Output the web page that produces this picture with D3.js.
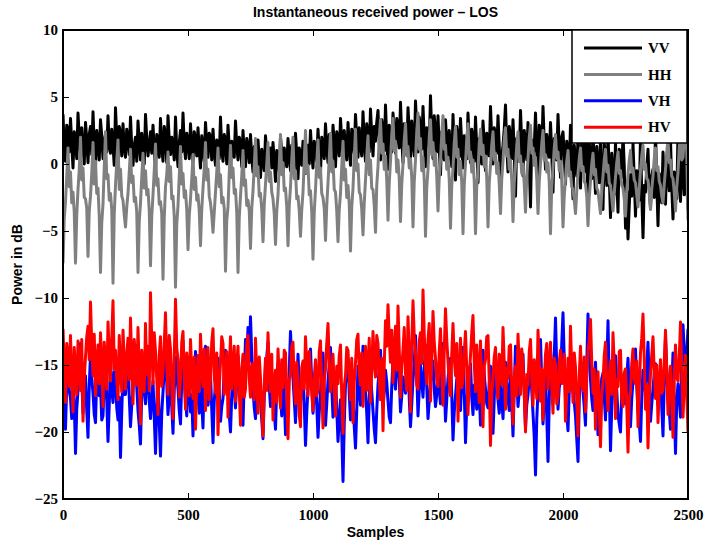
<!DOCTYPE html>
<html>
<head>
<meta charset="utf-8">
<script src="https://cdnjs.cloudflare.com/ajax/libs/d3/7.8.5/d3.min.js"></script>
<style>
  body { margin: 0; background: #fff; }
  svg { display: block; }
  .tick text { font-family: "Liberation Serif", "Times New Roman", serif; font-weight: bold; font-size: 15px; fill: #000; }
  .tick line { stroke: #000; stroke-width: 1; }
</style>
</head>
<body>
<svg width="704" height="544"></svg>
<script>

// one value every 5 samples (0..2500)
const lastSample = 2500;

const vv = [
  3.7, 1.1, 0.2, 2.9, 2.6, 0.9, 3.4, 1.5, -0.3, 2.4, 1.9, 0.4, 3.8, 2.0, 0.6, 2.7, 1.2, 0.0, 3.1, 1.8, 0.1, 2.2, 2.8, 0.7, 3.9, 1.3, -0.2, 2.5, 1.6, 0.3, 3.3, 2.1, 0.4, 1.7, 2.2, 0.9, 3.6, 1.4, 0.8, 2.6, 1.4, -0.1, 4.2, 1.9, 0.0, 2.8, 2.3, 0.6, 3.0, 1.2,
  0.5, 2.6, 1.8, 0.7, 3.5, 1.2, -0.1, 1.4, 2.0, 0.2, 3.2, 1.6, 0.3, 2.3, 1.1, 0.0, 3.7, 1.9, 0.6, 1.5, 2.4, 0.8, 2.9, 1.0, -0.4, 2.2, 1.7, 0.5, 3.4, 1.3, 0.2, 2.8, 2.1, 0.1, 3.6, 1.8, 0.7, 2.0, 1.3, 0.3, 3.5, 1.1, -0.2, 1.6, 2.5, 0.9, 3.8, 1.4, 0.4, 2.3,
  1.6, 0.4, 3.0, 1.3, 0.1, 2.4, 1.9, 0.6, 2.7, 1.0, -0.3, 2.1, 1.2, 0.2, 3.1, 1.5, 0.5, 2.3, 2.0, 0.3, 2.6, 0.9, -0.1, 1.8, 1.4, 0.4, 3.5, 1.1, 0.2, 2.2, 1.8, 0.0, 2.9, 1.2, -0.5, 1.7, 1.0, 0.5, 3.2, 1.4, 0.3, 2.0, 1.7, -0.2, 2.5, 0.8, -0.2, 1.9, 1.3, 0.1,
  2.2, 0.5, -0.6, 1.3, 0.9, -0.2, 1.8, 0.3, -1.0, 1.1, 0.4, -0.5, 2.1, 0.8, -0.4, 0.6, 1.2, -0.3, 1.6, 0.2, -1.3, 1.0, 0.7, -0.6, 2.0, 0.9, -0.8, 1.2, 0.3, -0.2, 1.9, 0.6, -0.5, 1.4, 1.1, -0.4, 2.3, 0.7, -1.1, 1.2, 0.6, -0.1, 1.7, 0.4, -0.7, 0.9, 1.4, 0.0, 2.5, 0.8,
  -0.3, 1.7, 1.0, 0.2, 2.6, 0.9, -0.6, 2.0, 1.5, 0.4, 3.0, 1.2, 0.1, 2.2, 0.8, -0.1, 2.9, 1.5, -0.2, 2.4, 1.8, 0.6, 3.4, 1.7, 0.4, 2.5, 1.2, 0.3, 3.1, 1.4, -0.1, 2.6, 2.0, 0.8, 3.7, 1.9, 0.5, 2.7, 1.4, 0.6, 3.9, 1.6, 0.2, 3.0, 2.2, 0.9, 4.1, 2.1, 0.6, 2.8,
  1.7, 3.1, 4.0, 1.6, 0.3, 3.3, 2.5, 1.0, 4.4, 1.8, -0.4, 2.9, 1.9, 0.9, 3.8, 2.3, 0.8, 3.4, 2.6, 1.2, 4.6, 2.0, 0.1, 3.0, 2.1, 0.7, 4.2, 2.4, 0.5, 3.2, 1.6, 0.6, 4.7, 2.6, 0.9, 3.5, 2.8, 1.1, 4.3, 1.9, -0.2, 2.7, 2.0, 1.3, 5.1, 2.2, 0.4, 3.6, 2.4, 0.9,
  3.6, 1.2, -0.8, 2.4, 1.5, 0.3, 3.3, 1.6, 0.2, 2.5, 1.1, -0.2, 3.7, 1.0, -1.2, 2.8, 2.0, 0.5, 3.4, 1.4, -0.3, 2.1, 1.3, 0.4, 3.8, 1.7, 0.1, 2.6, 1.8, 0.2, 3.5, 1.1, -1.4, 1.9, 0.9, 0.0, 3.2, 1.5, -0.5, 2.3, 1.6, 0.6, 4.3, 1.8, 0.0, 2.7, 2.2, 0.8, 3.6, 1.3,
  -1.7, 0.5, 1.4, 2.6, 4.4, 1.3, -0.6, 2.8, 2.0, 0.4, 3.3, 0.9, -2.4, 1.9, 1.0, 0.2, 4.0, 1.5, -0.9, 2.5, 1.7, 0.3, 3.1, 0.1, -3.2, 1.8, 0.6, 1.2, 3.8, 1.0, -1.2, 2.9, 2.3, 0.7, 4.3, 1.6, -0.4, 2.2, 1.1, 0.5, 3.1, 0.8, -2.1, 1.9, 1.5, 0.3, 3.7, 1.2, -1.0, 2.0,
  2.4, 0.6, -1.5, 1.7, 0.8, -0.4, 2.9, 0.2, -2.6, 1.4, 0.3, -0.9, 2.1, 0.0, -1.8, 2.0, 1.2, -0.6, 3.0, 0.4, -3.0, 1.6, 0.5, -1.1, 2.6, -0.3, -2.2, 1.3, 0.0, -1.4, 1.9, -0.7, -3.4, 1.5, 0.7, -1.6, 2.3, -0.8, -4.0, 0.8, -0.5, -2.3, 1.6, -1.2, -3.6, 1.1, 0.9, -1.0, 2.2, -0.2,
  -4.8, -2.0, -5.6, -3.1, -0.8, -2.4, 1.5, -1.1, -3.9, -0.5, -1.2, -2.7, 2.0, -2.2, -5.5, -1.6, -2.1, -0.3, 1.1, -1.8, -3.3, -0.9, -0.4, -2.5, 2.4, -1.3, -4.6, -0.7, -1.5, -2.9, 0.9, -1.4, -3.0, 0.4, -0.2, -2.0, 1.8, -1.7, -4.1, -0.6, -1.0, -2.6, 2.3, -0.8, -2.8, 0.5, -0.6, -2.3, 1.9, -1.5,
  -3.4
];

const hh = [
  -7.4, -4.1, -2.8, -0.9, 1.2, -1.7, -0.6, -2.9, -2.1, -3.6, -7.4, -3.8, -1.9, -0.4, 2.0, -1.2, -0.3, -2.5, -2.6, -3.3, -6.9, -3.5, -2.4, -0.7, 1.6, -1.5, 0.2, -2.2, -1.8, -3.9, -8.1, -4.4, -3.0, -0.2, 2.4, -1.1, -0.8, -2.7, -2.2, -3.4, -8.9, -3.7, -1.6, 0.1, 1.8, -1.9, -0.4, -2.4, -2.7, -3.8,
  -4.7, -3.2, -2.2, -0.6, 1.1, -1.4, -0.9, -2.8, -2.5, -3.6, -8.1, -4.3, -2.9, -1.0, 0.8, -1.8, -0.5, -2.3, -1.9, -3.5, -7.6, -3.9, -2.3, -0.5, 1.5, -1.6, -1.1, -3.0, -2.8, -3.7, -8.6, -4.0, -1.7, -0.8, 0.9, -1.3, -0.2, -2.6, -2.4, -3.9, -9.2, -4.5, -3.1, -0.9, 1.3, -1.5, -0.7, -2.5, -2.0, -3.4,
  -6.4, -3.9, -2.6, -1.1, 0.7, -1.9, -1.0, -2.7, -2.3, -3.5, -6.1, -3.4, -1.8, -0.3, 1.6, -1.2, -0.4, -2.4, -2.9, -3.8, -5.1, -3.6, -2.1, -0.6, 1.2, -1.7, -0.8, -2.9, -2.5, -3.3, -8.0, -4.2, -3.2, -0.7, 1.4, -1.0, -0.3, -2.2, -1.9, -3.6, -8.1, -4.0, -2.4, -0.9, 1.0, -1.6, -1.2, -3.1, -2.7, -3.5,
  -6.3, -3.3, -2.0, -0.2, 1.9, -0.9, -0.2, -2.4, -2.2, -3.4, -5.8, -3.0, -1.5, 0.0, 1.6, -1.3, -0.6, -2.1, -2.6, -3.7, -6.0, -3.5, -2.3, -0.1, 2.2, -0.8, 0.1, -2.0, -1.8, -3.2, -6.1, -3.1, -1.7, 0.3, 2.0, -1.1, -0.5, -2.6, -2.4, -3.5, -5.4, -3.4, -2.1, 0.2, 2.5, -0.7, -0.1, -2.3, -2.0, -3.6,
  -7.1, -3.6, -1.9, 0.1, 1.8, -1.0, -0.3, -2.2, -2.5, -3.3, -5.7, -3.1, -1.4, 0.4, 2.3, -0.6, 0.2, -1.9, -2.1, -3.5, -5.8, -3.4, -2.2, -0.2, 1.7, -1.2, -0.4, -2.5, -1.6, -3.0, -6.5, -3.2, -1.8, 0.5, 2.6, -0.5, 0.0, -2.1, -2.3, -3.4, -5.3, -2.9, -1.2, 0.6, 2.1, -0.8, 0.3, -1.8, -1.9, -3.1,
  -5.1, -1.6, -0.2, 1.9, 3.3, 0.8, 1.5, -0.4, 0.6, -1.2, -4.2, -1.4, 0.2, 2.2, 3.4, 1.0, 1.7, -0.6, 0.3, -1.1, -4.3, -1.5, 0.0, 1.8, 3.0, 0.6, 1.3, -0.3, 0.4, -1.0, -4.7, -1.3, 0.3, 2.4, 3.8, 1.1, 1.9, -0.5, 0.5, -1.2, -5.4, -1.8, -0.4, 2.0, 3.3, 0.7, 1.6, -0.1, 0.8, -0.9,
  -3.5, -1.0, 0.3, 2.2, 3.6, 1.1, 1.4, -0.4, 0.5, -1.2, -4.8, -1.6, -0.3, 1.6, 2.8, 0.5, 1.1, -0.8, 0.2, -1.4, -5.2, -1.5, 0.0, 1.9, 3.0, 0.4, 0.9, -0.6, 0.3, -1.3, -5.2, -1.7, -0.4, 1.5, 2.6, 0.7, 1.4, -0.2, 0.6, -1.1, -4.7, -1.4, -0.1, 1.4, 2.4, 0.3, 0.8, -0.7, 0.1, -1.5,
  -3.7, -1.1, 0.2, 1.8, 2.7, 0.6, 1.1, -0.4, 0.3, -1.2, -4.3, -1.4, -0.2, 1.4, 2.4, 0.2, 0.6, -0.7, 0.0, -1.5, -3.6, -1.0, 0.4, 2.0, 2.9, 0.8, 1.2, -0.1, 0.5, -1.1, -3.7, -1.3, 0.0, 1.5, 2.5, 0.3, 0.7, -0.6, 0.1, -1.4, -5.2, -1.7, -0.3, 1.2, 2.2, 0.4, 0.9, -0.5, 0.2, -1.3,
  -4.7, -2.4, -1.1, 0.2, 1.0, -0.9, -0.6, -1.7, -1.9, -2.7, -3.7, -2.0, -0.7, 0.4, 1.2, -0.5, -0.2, -1.3, -1.5, -2.4, -4.6, -2.5, -1.3, 0.0, 0.8, -0.8, -0.4, -1.8, -2.0, -2.9, -3.7, -2.1, -0.9, 0.3, 1.1, -0.6, -0.1, -1.4, -1.6, -2.5, -3.5, -2.2, -1.0, 0.1, 0.9, -0.7, -0.5, -1.6, -1.8, -2.6,
  -3.9, -2.0, -0.8, 0.3, 1.0, -0.6, -0.3, -1.2, -1.4, -2.3, -3.2, -1.8, -0.5, 0.6, 1.4, -0.4, 0.0, -1.1, -1.2, -2.2, -3.4, -1.9, -0.9, 0.4, 1.2, -0.5, -0.2, -1.3, -1.6, -2.4, -2.9, -1.5, -0.4, 0.9, 1.8, 0.1, 0.3, -0.9, -1.1, -2.1, -3.5, -1.7, -0.6, 1.2, 2.6, 0.3, 0.5, 1.9, 3.4, 0.8,
  -4.2
];

const vh = [
  -16.3, -18.1, -19.8, -16.4, -14.7, -16.9, -17.5, -19.0, -15.2, -17.7, -21.6, -18.3, -16.9, -15.1, -13.4, -16.2, -18.6, -17.0, -15.8, -18.4, -20.4, -16.6, -14.2, -16.0, -17.1, -18.7, -19.3, -15.9, -13.9, -17.3, -16.5, -19.1, -18.8, -16.2, -15.0, -17.6, -20.7, -18.0, -14.6, -16.8, -17.8, -15.5, -16.0, -18.2, -19.1, -17.4, -21.9, -18.5, -15.4, -17.2,
  -17.2, -15.8, -14.1, -17.4, -19.6, -18.0, -16.7, -15.2, -13.5, -16.6, -18.4, -19.5, -20.9, -17.1, -15.3, -16.9, -17.9, -16.0, -14.8, -17.7, -19.0, -17.5, -16.2, -18.9, -21.6, -18.2, -15.6, -19.3, -21.8, -18.6, -17.0, -15.4, -13.8, -16.3, -18.7, -17.2, -15.9, -18.1, -20.1, -16.9, -14.4, -15.7, -16.8, -18.4, -19.4, -16.1, -13.2, -15.9, -17.6, -18.8,
  -15.1, -16.9, -18.5, -17.2, -20.3, -16.8, -14.0, -15.9, -17.3, -18.6, -16.1, -17.8, -19.7, -15.6, -13.6, -16.4, -18.0, -17.1, -15.7, -18.3, -20.8, -17.7, -16.4, -15.2, -14.5, -17.0, -19.2, -18.1, -17.5, -15.4, -13.9, -16.2, -16.6, -18.7, -20.0, -17.3, -15.2, -16.7, -18.2, -16.3, -14.3, -15.8, -17.1, -18.4, -19.5, -16.0, -13.1, -14.9, -12.2, -14.7,
  -11.4, -14.3, -16.8, -18.2, -19.0, -16.5, -14.6, -16.1, -17.7, -19.1, -20.5, -17.4, -15.0, -14.4, -13.3, -16.6, -18.1, -17.0, -16.3, -18.5, -19.8, -16.7, -14.9, -16.2, -17.4, -18.8, -15.6, -17.3, -20.2, -19.0, -18.3, -15.4, -12.5, -14.8, -16.0, -17.6, -19.3, -17.0, -14.2, -16.5, -17.9, -16.3, -15.5, -18.0, -21.0, -18.6, -16.7, -15.1, -13.8, -16.4,
  -18.6, -17.1, -15.3, -18.0, -20.4, -18.5, -17.0, -15.6, -14.1, -16.8, -19.5, -17.9, -16.2, -15.0, -13.7, -16.6, -18.9, -17.2, -15.8, -18.3, -20.7, -19.0, -17.6, -20.1, -23.7, -19.4, -16.4, -15.7, -14.5, -17.1, -19.1, -18.2, -17.3, -19.6, -21.2, -18.4, -15.1, -16.7, -18.0, -16.3, -13.6, -15.4, -16.9, -18.6, -20.8, -17.5, -15.7, -17.0, -18.4, -19.8,
  -20.8, -18.4, -16.5, -15.2, -13.9, -16.7, -18.2, -17.0, -15.4, -16.3, -17.7, -18.9, -19.3, -16.6, -14.6, -15.9, -16.8, -15.1, -13.2, -16.0, -18.5, -17.3, -15.9, -16.4, -17.1, -15.7, -14.3, -17.5, -19.6, -17.9, -16.1, -14.9, -12.8, -15.6, -18.8, -16.9, -15.0, -16.2, -17.4, -15.3, -13.5, -16.6, -19.0, -17.7, -16.3, -15.5, -14.7, -16.8, -18.1, -17.2,
  -15.6, -16.8, -17.9, -15.5, -13.4, -16.3, -19.2, -17.6, -16.0, -15.1, -14.5, -17.2, -20.6, -18.5, -17.3, -16.1, -15.2, -16.9, -18.4, -16.2, -13.7, -17.0, -20.8, -18.1, -16.6, -15.4, -14.9, -17.4, -18.7, -16.5, -17.0, -18.3, -15.3, -17.1, -19.5, -16.7, -13.9, -15.8, -16.8, -17.9, -18.2, -16.4, -15.1, -17.3, -20.1, -17.5, -14.4, -16.0, -17.6, -18.6,
  -16.2, -17.6, -19.0, -16.5, -14.8, -16.1, -17.5, -18.4, -15.7, -17.9, -20.3, -16.8, -13.6, -15.9, -18.1, -17.0, -16.4, -15.3, -14.2, -17.1, -19.7, -18.0, -17.2, -16.0, -15.0, -16.9, -18.6, -20.4, -23.2, -19.1, -16.9, -15.0, -13.1, -16.3, -19.4, -17.5, -15.5, -18.8, -22.2, -17.7, -14.0, -15.6, -17.8, -14.3, -11.5, -15.2, -18.3, -16.7, -15.9, -13.4,
  -11.1, -14.6, -17.4, -18.6, -19.9, -17.0, -15.3, -16.2, -16.7, -17.8, -18.8, -20.5, -22.2, -17.7, -14.6, -15.8, -17.0, -18.1, -19.5, -15.0, -11.2, -13.9, -16.1, -17.5, -18.4, -16.3, -14.8, -17.6, -20.2, -18.9, -17.3, -16.0, -15.6, -17.4, -19.1, -15.3, -11.7, -16.6, -21.4, -18.2, -16.5, -15.1, -14.3, -16.9, -18.7, -19.4, -20.0, -17.1, -15.8, -17.7,
  -17.9, -16.0, -14.5, -17.2, -19.6, -17.5, -16.2, -15.0, -13.8, -16.6, -18.5, -19.3, -20.7, -17.4, -15.4, -16.3, -17.1, -15.1, -13.3, -16.5, -19.2, -17.9, -16.8, -15.6, -14.9, -16.7, -18.0, -16.9, -15.2, -18.2, -20.3, -16.4, -12.9, -15.3, -17.6, -18.4, -19.8, -16.8, -14.1, -18.0, -21.6, -17.7, -16.4, -17.5, -18.9, -14.8, -12.0, -13.9, -15.7, -14.1,
  -12.3
];

const hv = [
  -12.3, -15.2, -17.8, -13.4, -14.1, -16.6, -12.8, -15.9, -18.5, -13.7, -15.6, -17.2, -13.2, -14.8, -16.9, -13.1, -19.2, -16.0, -14.4, -12.9, -12.1, -14.6, -10.3, -13.5, -15.8, -12.7, -17.3, -15.0, -13.5, -16.4, -12.6, -14.9, -18.1, -13.3, -14.9, -16.8, -11.8, -14.2, -16.2, -13.0, -10.2, -15.3, -13.9, -16.1, -17.6, -12.8, -15.1, -17.0, -12.4, -14.7,
  -16.8, -14.2, -13.0, -16.1, -11.5, -14.8, -17.9, -13.1, -14.7, -16.5, -12.2, -15.4, -19.4, -13.9, -15.3, -17.0, -11.9, -15.7, -13.6, -16.9, -9.6, -13.2, -16.4, -12.6, -14.0, -16.0, -18.7, -14.3, -12.9, -16.6, -15.5, -13.4, -11.1, -15.0, -17.2, -12.8, -13.8, -16.3, -19.0, -14.5, -10.1, -13.7, -14.6, -17.4, -16.1, -13.3, -12.5, -15.8, -18.3, -14.1,
  -15.0, -17.3, -13.1, -15.6, -17.5, -14.4, -19.8, -16.2, -14.3, -17.0, -12.7, -15.1, -16.6, -13.8, -18.4, -15.5, -13.7, -17.6, -15.9, -13.3, -12.3, -15.8, -17.1, -14.1, -20.2, -16.7, -14.8, -12.9, -13.4, -17.2, -16.3, -14.0, -18.9, -15.4, -12.9, -16.8, -15.2, -13.6, -17.7, -14.9, -13.6, -16.9, -19.5, -15.3, -14.2, -17.4, -16.8, -13.5, -12.8, -16.0,
  -17.4, -15.1, -14.9, -17.6, -13.0, -15.8, -18.6, -14.4, -16.0, -18.1, -20.3, -16.6, -14.5, -16.9, -12.6, -15.3, -17.0, -14.2, -19.1, -16.4, -15.4, -17.8, -13.8, -15.9, -18.2, -14.6, -16.7, -13.9, -14.1, -17.5, -20.5, -16.1, -15.7, -13.6, -13.3, -16.5, -17.9, -14.8, -16.2, -18.7, -19.6, -15.2, -14.7, -16.8, -12.9, -15.0, -17.3, -14.0, -15.5, -17.1,
  -18.4, -15.9, -14.6, -17.3, -16.9, -14.0, -13.2, -16.7, -19.7, -16.2, -15.3, -13.4, -11.9, -14.9, -17.0, -15.5, -14.2, -16.8, -18.8, -15.1, -16.4, -14.3, -13.5, -17.4, -20.1, -16.6, -15.8, -13.7, -13.9, -16.0, -17.6, -14.5, -19.3, -16.3, -14.8, -13.1, -12.7, -15.6, -16.5, -14.1, -18.1, -15.7, -13.6, -16.9, -15.1, -13.0, -17.8, -15.4, -12.5, -14.8,
  -15.9, -12.8, -13.4, -16.2, -17.6, -14.5, -19.9, -15.0, -11.7, -13.6, -10.5, -13.0, -14.8, -12.4, -16.3, -14.1, -12.1, -15.4, -10.6, -13.8, -17.4, -15.1, -13.9, -12.2, -15.6, -16.9, -11.4, -14.3, -18.5, -13.5, -10.2, -12.9, -14.0, -16.5, -16.8, -13.2, -12.6, -14.9, -9.4, -12.7, -15.2, -16.4, -13.1, -11.9, -17.7, -14.6, -11.0, -13.3, -14.5, -16.1,
  -16.6, -14.0, -12.3, -15.5, -18.0, -13.9, -10.8, -13.1, -14.7, -16.4, -17.3, -14.2, -11.9, -14.5, -15.8, -13.4, -19.2, -15.6, -13.0, -16.7, -16.1, -14.1, -12.5, -15.3, -18.7, -16.0, -14.3, -12.6, -11.3, -14.8, -17.0, -13.5, -15.4, -17.8, -13.2, -16.3, -19.6, -15.1, -14.6, -12.9, -12.8, -16.2, -21.0, -17.1, -15.9, -14.4, -13.7, -16.5, -17.5, -14.2,
  -14.4, -16.5, -12.2, -14.9, -18.3, -15.2, -16.0, -13.6, -13.5, -16.7, -19.4, -16.1, -15.1, -17.3, -12.7, -15.0, -17.2, -13.8, -14.9, -17.1, -20.0, -15.7, -16.5, -14.0, -13.1, -15.9, -18.0, -14.6, -15.6, -17.5, -12.4, -14.7, -17.7, -15.3, -19.1, -16.2, -14.2, -13.4, -16.8, -15.0, -13.3, -16.6, -18.6, -14.5, -15.0, -17.9, -17.4, -14.8, -13.9, -16.4,
  -16.3, -14.2, -19.2, -16.8, -14.5, -17.0, -12.1, -15.4, -17.8, -14.1, -15.2, -17.6, -20.3, -15.9, -13.6, -16.4, -16.9, -14.4, -18.5, -16.0, -14.0, -13.1, -11.6, -14.8, -17.1, -15.3, -19.8, -16.7, -15.5, -18.2, -21.1, -17.3, -16.2, -14.3, -13.3, -16.6, -18.4, -15.7, -14.7, -17.2, -12.6, -15.0, -19.0, -16.1, -16.6, -14.0, -13.9, -17.5, -18.1, -15.6,
  -15.3, -18.0, -21.5, -17.6, -17.0, -14.9, -13.8, -16.1, -16.4, -14.7, -19.6, -16.8, -14.1, -13.0, -11.2, -14.5, -18.3, -16.5, -21.2, -17.4, -15.7, -14.2, -12.9, -15.6, -17.5, -15.0, -19.3, -16.7, -14.6, -17.1, -16.9, -14.8, -12.4, -15.5, -18.7, -16.3, -15.1, -17.8, -20.4, -16.0, -13.5, -15.9, -16.2, -14.4, -11.8, -15.2, -18.9, -16.6, -14.3, -17.2,
  -20.0
];

const seriesNames = ["VV", "HH", "VH", "HV"];
const seriesColors = ["#000000", "#808080", "#0000ff", "#ff0000"];
const seriesValues = [vv, hh, vh, hv];

const xTicks = [0, 500, 1000, 1500, 2000, 2500];
const yTicks = [-25, -20, -15, -10, -5, 0, 5, 10];

const svg = d3.select("svg"),
  width = +svg.attr("width"),
  height = +svg.attr("height");

const margin = { top: 30, right: 16, bottom: 45, left: 63 };
const plotW = width - margin.left - margin.right;
const plotH = height - margin.top - margin.bottom;

const x = d3.scaleLinear().domain([0, lastSample]).range([0, plotW]);
const y = d3.scaleLinear().domain([-25, 10]).range([plotH, 0]);

const fmt = d => (d < 0 ? "\u2212" + Math.abs(d) : "" + d);

const chart = svg.append("g")
  .attr("transform", "translate(" + margin.left + "," + margin.top + ")");

chart.append("clipPath")
  .attr("id", "plot-clip")
  .append("rect")
  .attr("width", plotW)
  .attr("height", plotH);

chart.append("g")
  .attr("clip-path", "url(#plot-clip)")
  .selectAll("path")
  .data(seriesValues)
  .enter()
  .append("path")
  .attr("fill", "none")
  .attr("stroke", (d, i) => seriesColors[i])
  .attr("stroke-width", 3)
  .attr("stroke-linejoin", "round")
  .attr("d", vals => {
    const step = lastSample / (vals.length - 1);
    return d3.line()
      .x((d, i) => x(i * step))
      .y(d => y(d))(vals);
  });

// axes, ticks pointing inward on all four sides
chart.append("g")
  .attr("transform", "translate(0," + plotH + ")")
  .call(d3.axisBottom(x).tickValues(xTicks).tickSizeInner(-6).tickSizeOuter(0).tickPadding(10).tickFormat(fmt))
  .call(g => g.select(".domain").remove());

chart.append("g")
  .call(d3.axisTop(x).tickValues(xTicks).tickSizeInner(-6).tickSizeOuter(0).tickFormat(""))
  .call(g => g.select(".domain").remove());

chart.append("g")
  .call(d3.axisLeft(y).tickValues(yTicks).tickSizeInner(-6).tickSizeOuter(0).tickPadding(5).tickFormat(fmt))
  .call(g => g.select(".domain").remove());

chart.append("g")
  .attr("transform", "translate(" + plotW + ",0)")
  .call(d3.axisRight(y).tickValues(yTicks).tickSizeInner(-6).tickSizeOuter(0).tickFormat(""))
  .call(g => g.select(".domain").remove());

chart.append("rect")
  .attr("width", plotW)
  .attr("height", plotH)
  .attr("fill", "none")
  .attr("stroke", "#000")
  .attr("stroke-width", 2);

// legend
const legend = chart.append("g")
  .attr("transform", "translate(" + (plotW - 116) + ",0)");

legend.append("rect")
  .attr("width", 115)
  .attr("height", 113)
  .attr("fill", "#fff")
  .attr("stroke", "#000")
  .attr("stroke-width", 1.5);

const items = legend.selectAll("g.item")
  .data(seriesNames)
  .enter()
  .append("g")
  .attr("class", "item")
  .attr("transform", (d, i) => "translate(0," + (18 + i * 26.4) + ")");

items.append("line")
  .attr("x1", 12)
  .attr("x2", 70)
  .attr("stroke", (d, i) => seriesColors[i])
  .attr("stroke-width", 3);

items.append("text")
  .attr("x", 76)
  .attr("dy", "0.35em")
  .style("font-family", "'Liberation Serif', 'Times New Roman', serif")
  .style("font-weight", "bold")
  .style("font-size", "15px")
  .text(d => d);

svg.append("text")
  .attr("x", margin.left + plotW / 2)
  .attr("y", 17)
  .attr("text-anchor", "middle")
  .style("font-family", "'Liberation Sans', Arial, sans-serif")
  .style("font-weight", "bold")
  .style("font-size", "14px")
  .text("Instantaneous received power \u2013 LOS");

svg.append("text")
  .attr("x", margin.left + plotW / 2)
  .attr("y", 537)
  .attr("text-anchor", "middle")
  .style("font-family", "'Liberation Sans', Arial, sans-serif")
  .style("font-weight", "bold")
  .style("font-size", "14px")
  .text("Samples");

svg.append("text")
  .attr("transform", "translate(22," + (margin.top + plotH / 2) + ") rotate(-90)")
  .attr("text-anchor", "middle")
  .style("font-family", "'Liberation Sans', Arial, sans-serif")
  .style("font-weight", "bold")
  .style("font-size", "14px")
  .text("Power in dB");

</script>
</body>
</html>
